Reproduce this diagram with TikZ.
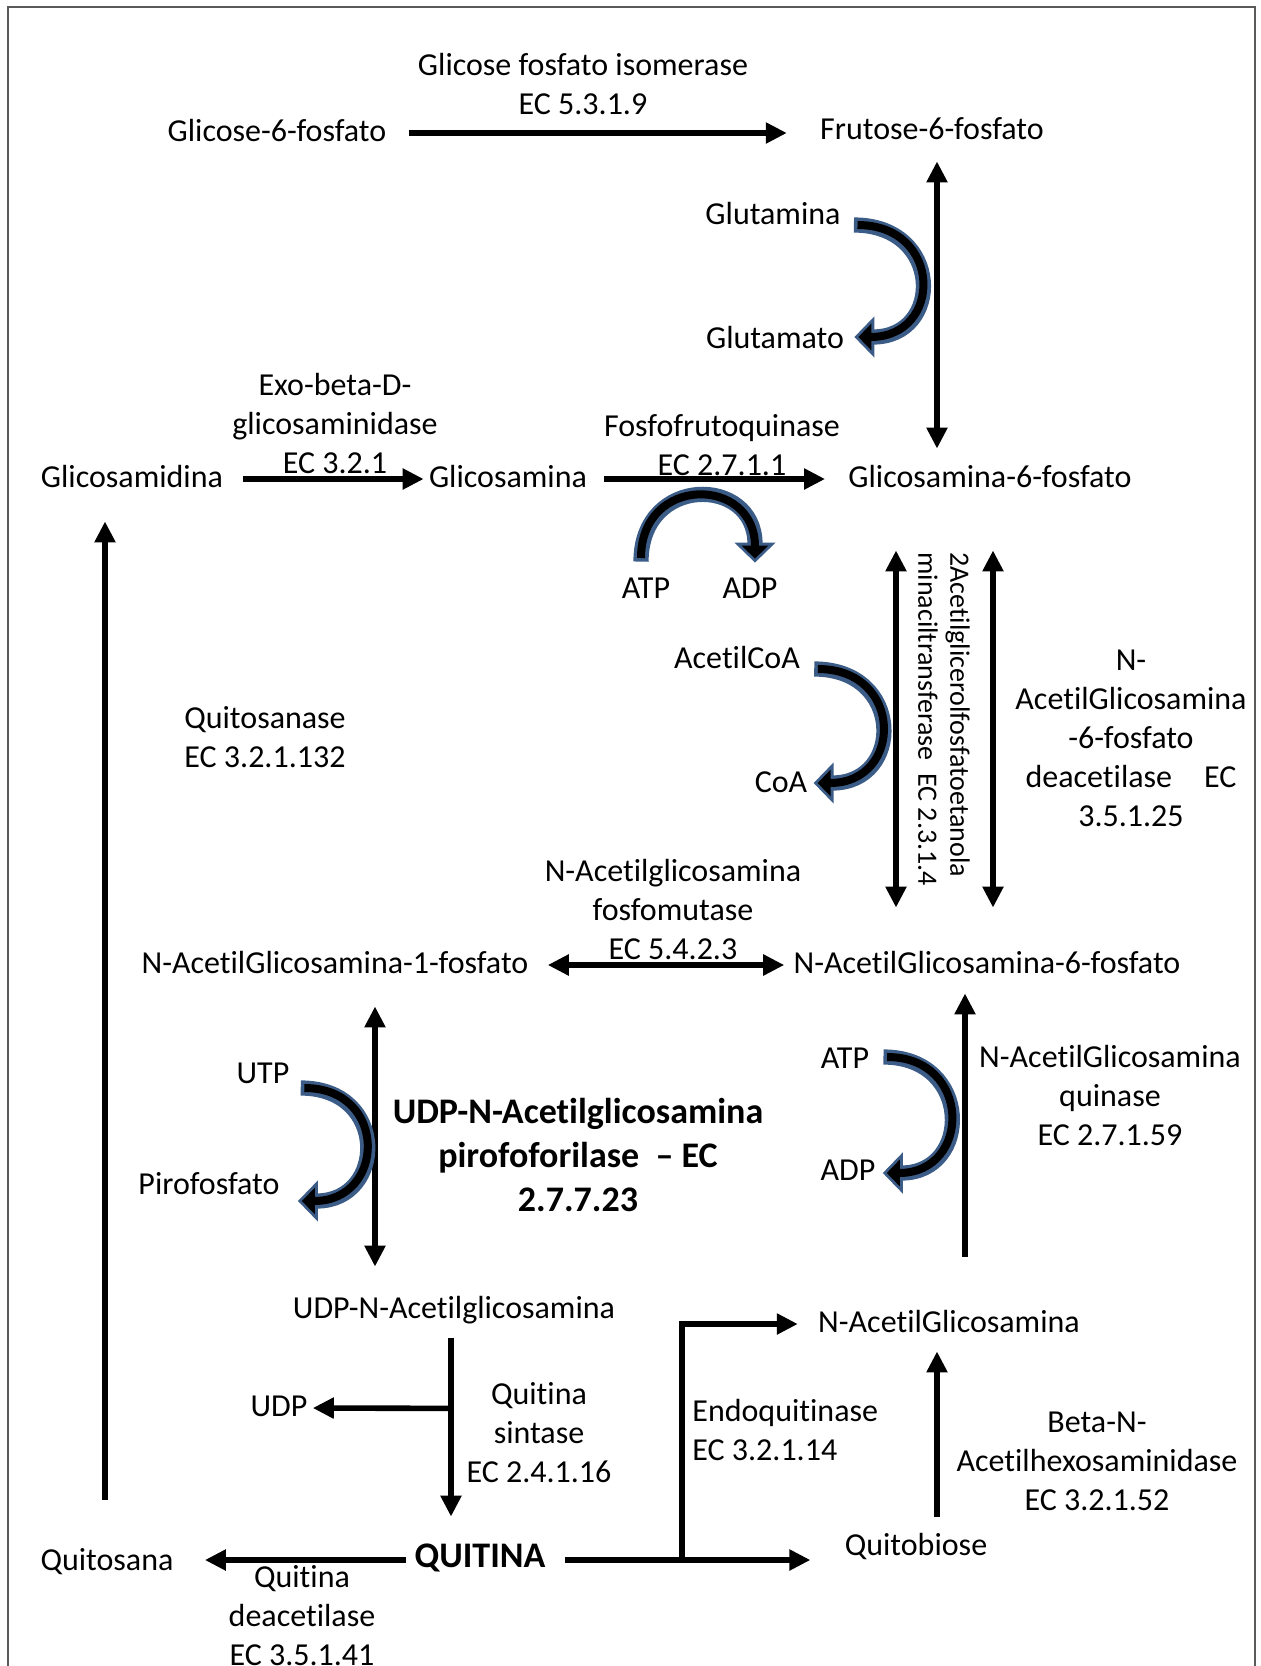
\documentclass[tikz,border=0pt]{standalone}
\usepackage{fontspec}
\setmainfont{Carlito}[Ligatures={NoCommon,TeX}, Contextuals={NoAlternate}]
\usepackage{tikz}
\usetikzlibrary{arrows.meta,positioning,calc}
\usepackage{xcolor}
\tikzset{>={Triangle[length=10.5pt,width=10pt]}}
\definecolor{COFcolor}{RGB}{59,92,135}
\definecolor{BORDAcolor}{RGB}{90,90,90}

\tikzset{
  met/.style={font=\fontsize{16}{19.5}\selectfont, inner sep=0pt, text height=11pt, text depth=3pt},
  metbold/.style={font=\fontsize{18}{22}\selectfont\bfseries, inner sep=0pt, text height=12.5pt, text depth=3.5pt},
  enz/.style={font=\fontsize{16}{19.5}\selectfont, inner sep=0pt, align=center},
  enzbold/.style={font=\fontsize{18}{22}\selectfont\bfseries, inner sep=0pt, align=center},
  seta/.style={line width=2.8pt, ->},
  setadupla/.style={line width=2.8pt, <->},
  cofseta/.style={line width=4pt, black, shorten <=1.8pt, shorten >=2pt,
    -{Triangle[length=6.5pt,width=13pt]},
    preaction={draw=COFcolor, line width=7.6pt, shorten <=0pt, shorten >=0pt,
      -{Triangle[length=10pt,width=20pt]}}}
}

\begin{document}
\begin{tikzpicture}[x=0.5pt, y=-0.5pt]
\useasboundingbox (0,0) rectangle (1261,1666);

% moldura
\draw[BORDAcolor, line width=1pt] (8,1666) -- (8,7) -- (1255,7) -- (1255,1666);

% metabolitos
\node[met] (g6p) at (277,133) {Glicose-6-fosfato};
\node[met] (f6p) at (932,131) {Frutose-6-fosfato};
\node[met] (gln) at (773,216) {Glutamina};
\node[met] (glu) at (775,340) {Glutamato};
\node[met] (gam) at (132,479) {Glicosamidina};
\node[met] (gan) at (508,479) {Glicosamina};
\node[met] (gn6p) at (990,479) {Glicosamina-6-fosfato};
\node[met] (atpa) at (646,590) {ATP};
\node[met] (adpa) at (750,590) {ADP};
\node[met] (acoa) at (737,660) {AcetilCoA};
\node[met] (coa) at (781,784) {CoA};
\node[met] (nag1p) at (335,965) {N-AcetilGlicosamina-1-fosfato};
\node[met] (nag6p) at (987,965) {N-AcetilGlicosamina-6-fosfato};
\node[met] (utp) at (263,1075) {UTP};
\node[met] (ppi) at (209,1186) {Pirofosfato};
\node[met] (atpb) at (845,1060) {ATP};
\node[met] (adpb) at (848,1172) {ADP};
\node[met] (udpnag) at (454,1310) {UDP-N-Acetilglicosamina};
\node[met] (udp) at (279,1408) {UDP};
\node[metbold] (quitina) at (480,1558) {QUITINA};
\node[met] (quitosana) at (107,1562) {Quitosana};
\node[met] (nag) at (949,1324) {N-AcetilGlicosamina};
\node[met] (quitobiose) at (916,1547) {Quitobiose};

% enzimas
\node[enz] (gpi) at (583,84) {Glicose fosfato isomerase\\EC 5.3.1.9};
\node[enz] (exo) at (335,424) {Exo-beta-D-\\glicosaminidase\\EC 3.2.1};
\node[enz] (pfk) at (722,445) {Fosfofrutoquinase\\EC 2.7.1.1};
\node[enz, font=\fontsize{14}{16}\selectfont, rotate=-90, anchor=west, align=left] (gnat) at (944,552)
  {2Acetilglicerolfosfatoetanola\\minaciltransferase\ \ EC 2.3.1.4};
\node[enz] (deac) at (1131,738) {N-\\AcetilGlicosamina\\-6-fosfato\\deacetilase\hspace{1em}EC\\3.5.1.25};
\node[enz] (qsase) at (265,737) {Quitosanase\\EC 3.2.1.132};
\node[enz] (mut) at (673,910) {N-Acetilglicosamina\\fosfomutase\\EC 5.4.2.3};
\node[enzbold] (uap) at (578,1155) {UDP-N-Acetilglicosamina\\pirofoforilase\ \ – EC\\2.7.7.23};
\node[enz] (nagk) at (1110,1095) {N-AcetilGlicosamina\\quinase\\EC 2.7.1.59};
\node[enz] (chs) at (539,1433) {Quitina\\sintase\\EC 2.4.1.16};
\node[enz] (cda) at (302,1616) {Quitina\\deacetilase\\EC 3.5.1.41};
\node[enz, align=left, anchor=west] (endo) at (692,1430) {Endoquitinase\\EC 3.2.1.14};
\node[enz] (hex) at (1097,1461) {Beta-N-\\Acetilhexosaminidase\\EC 3.2.1.52};

% reacoes
\draw[seta] ([shift={(22,0)}]g6p.east) -- ($(g6p.east -| f6p.west)+(-33,0)$);
\draw[setadupla] ([shift={(5,16)}]f6p.south) -- ($(f6p.south |- gn6p.north)+(5,-16)$);
\draw[seta] ([shift={(20,0)}]gam.east) -- ([shift={(-5,0)}]gan.west);
\draw[seta] ([shift={(17,0)}]gan.east) -- ([shift={(-23,0)}]gn6p.west);
\draw[setadupla] ([shift={(-94,57)}]gn6p.south) -- ($(gn6p.south |- nag6p.north)+(-94,-43)$);
\draw[setadupla] ([shift={(3,57)}]gn6p.south) -- ($(gn6p.south |- nag6p.north)+(3,-43)$);
\draw[seta] ($(quitosana.north)+(-2,-48)$) -- ($(quitosana.north |- gam.south)+(-2,28)$);
\draw[setadupla] ([shift={(19,0)}]nag1p.east) -- ([shift={(-9,0)}]nag6p.west);
\draw[setadupla] ([shift={(40,27)}]nag1p.south) -- ($(nag1p.south |- udpnag.north)+(40,-29)$);
\draw[seta] ([shift={(16,-53)}]nag.north) -- ($(nag.north |- nag6p.south)+(16,14)$);
\draw[seta] ([shift={(-3,14)}]udpnag.south) -- ($(udpnag.south |- quitina.north)+(-3,-25)$);
\coordinate (forkudp) at ([shift={(-3,84)}]udpnag.south);
\draw[seta] (forkudp) -- ([shift={(5,0)}]udp.east);
\draw[seta] ([shift={(-8,2)}]quitina.west) -- ($(quitina.west -| quitosana.east)+(31,2)$);
\draw[seta] ([shift={(19,2)}]quitina.east) -- ($(quitina.east -| quitobiose.west)+(-34,2)$);
\coordinate (forkquit) at ($(quitina.east)+(136,2)$);
\draw[seta] (forkquit) |- ([shift={(-20,0)}]nag.west);
\draw[seta] ([shift={(21,-16)}]quitobiose.north) -- ($(quitobiose.north |- nag.south)+(21,13)$);

% cofatores (setas curvas)
\draw[cofseta] ([shift={(13,9)}]gln.east) .. controls +(89,0) and +(89,0) .. ([shift={(10,-3)}]glu.east);
\draw[cofseta] ([shift={(-5,-14)}]atpa.north) .. controls +(0,-87) and +(0,-87) .. ([shift={(5,-13)}]adpa.north);
\draw[cofseta] ([shift={(14,9)}]acoa.east) .. controls +(90,0) and +(90,0) .. ([shift={(6,-1)}]coa.east);
\draw[cofseta] ([shift={(11,13)}]utp.east) .. controls +(88,0) and +(88,0) .. ([shift={(18,15)}]ppi.east);
\draw[cofseta] ([shift={(14,-3)}]atpb.east) .. controls +(89,0) and +(89,0) .. ([shift={(7,1)}]adpb.east);

\end{tikzpicture}
\end{document}
